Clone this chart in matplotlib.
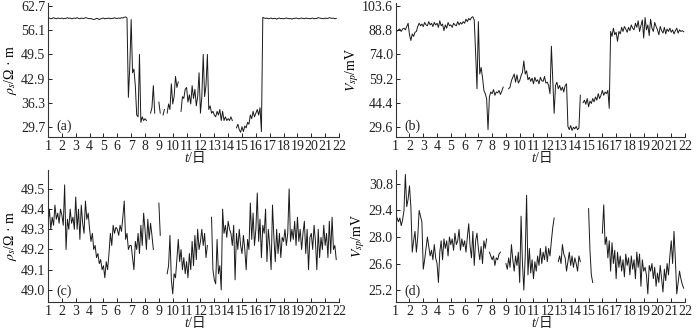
import numpy as np
import matplotlib
matplotlib.use("Agg")
import matplotlib.pyplot as plt

plt.rcParams['font.family'] = ['Liberation Serif', 'Noto Sans CJK SC']
plt.rcParams['mathtext.fontset'] = 'stix'

nan = np.nan

# (a) apparent resistivity, Ohm*m, sampled every 0.1 day from t=1
rho_a = [
    59.3, 59.4, 59.2, 59.3, 59.5, 59.3, 59.2, 59.4, 59.3, 59.3,
    59.4, 59.2, 59.3, 59.3, 59.5, 59.3, 59.4, 59.2, 59.3, 59.4,
    59.3, 59.5, 59.3, 59.2, 59.4, 59.3, 59.3, 59.5, 59.4, 59.3,
    59.2, 59.3, 59.1, 59.0, 59.1, 59.3, 59.2, 59.0, 59.2, 59.3,
    59.4, 59.2, 59.3, 59.3, 59.4, 59.2, 59.3, 59.3, 59.5, 59.3,
    59.3, 59.4, 59.3, 59.5, 59.4, 59.6, 59.7, 59.4, 37.8, 46.0,
    59.0, 44.5, 45.5, 41.0, 33.0, 32.5, 49.5, 31.0, 32.5, 31.5,
    32.0, 31.5, nan, nan, 33.5, 35.0, 41.0, 33.5, nan, nan,
    36.5, 33.5, nan, 33.0, 34.5, nan, 33.5, 36.0, 34.5, 41.5,
    36.0, 38.0, 43.5, 40.5, 42.0, nan, 34.0, 38.0, 37.5, 40.0,
    40.5, 36.5, 38.5, 36.0, 41.0, 37.5, 40.0, 35.5, 38.0, 44.5,
    33.5, 38.0, 49.5, 38.0, 41.0, 49.5, 34.5, 35.5, 33.5, 34.0,
    33.0, 32.5, 34.0, 33.0, 34.5, 31.5, 34.0, 31.5, 32.5, 31.5,
    32.0, 31.5, 32.5, 31.5, nan, nan, 29.5, 30.5, 29.0, 28.3,
    29.8, 28.5, 30.0, 29.5, 31.0, 30.5, 33.0, 32.0, 34.0, 32.5,
    33.5, 34.5, 33.0, 35.0, 28.5, 59.6, 59.4, 59.3, 59.4, 59.2,
    59.3, 59.4, 59.2, 59.3, 59.3, 59.1, 59.3, 59.4, 59.2, 59.3,
    59.2, 59.3, 59.4, 59.3, 59.2, 59.3, 59.1, 59.3, 59.3, 59.4,
    59.3, 59.2, 59.3, 59.4, 59.3, 59.2, 59.4, 59.3, 59.3, 59.2,
    59.3, 59.4, 59.2, 59.3, 59.3, 59.5, 59.4, 59.3, 59.3, 59.2,
    59.4, 59.3, 59.3, 59.5, 59.4, 59.3, 59.4, 59.2, 59.3,
]

# (b) self-potential, mV
vsp_b = [
    88.5, 88.2, 89.0, 89.5, 88.0, 89.5, 90.0, 89.0, 91.0, 93.0,
    86.0, 82.5, 86.5, 85.0, 87.5, 88.0, 91.0, 93.0, 91.5, 92.5,
    91.0, 93.5, 92.0, 91.5, 94.0, 92.0, 93.0, 91.0, 93.5, 92.0,
    93.0, 90.5, 94.5, 91.5, 92.5, 88.5, 92.0, 90.0, 93.5, 91.5,
    92.0, 90.5, 93.0, 92.0, 91.5, 94.0, 92.0, 93.5, 92.5, 94.0,
    93.0, 95.5, 94.0, 96.0, 95.0, 96.5, 97.0, 95.0, 75.0, 53.0,
    94.0, 62.0, 66.0, 60.0, 52.0, 50.0, 47.0, 28.0, 48.0, 51.0,
    50.0, 52.5, 49.0, 51.0, 50.5, 52.0, 49.5, 51.5, 54.0, nan,
    55.0, nan, 53.0, 54.0, 58.0, 60.0, 62.0, 57.0, 61.5, 56.5,
    58.0, 61.0, 63.0, 70.0, 62.0, 64.0, 58.5, 60.0, 57.5, 59.5,
    56.0, 60.0, 57.5, 58.5, 56.0, 60.0, 58.0, 57.5, 60.5, 56.5,
    57.0, 55.0, 50.0, 79.0, 58.0, 38.0, 55.0, 57.0, 53.0, 55.0,
    52.0, 54.0, 51.0, 55.0, 56.0, 30.0, 28.0, 30.5, 27.5, 29.5,
    28.5, 30.0, 28.0, 29.0, 49.0, nan, 44.5, 46.0, 43.5, 47.0,
    42.0, 45.5, 44.0, 47.0, 45.0, 48.0, 46.0, 50.0, 47.0, 49.0,
    52.0, 49.0, 51.0, 50.0, 52.0, 41.0, 88.0, 85.0, 90.0, 86.0,
    87.5, 82.0, 88.0, 86.5, 90.5, 88.0, 91.0, 89.5, 87.5, 90.5,
    88.5, 92.0, 90.0, 89.0, 93.0, 90.5, 94.5, 88.0, 91.5, 95.0,
    84.0, 96.5, 89.0, 92.0, 85.5, 95.5, 90.0, 88.0, 93.5, 91.0,
    89.0, 86.0, 91.0, 88.5, 87.0, 90.5, 86.5, 89.5, 88.0, 90.0,
    87.5, 89.0, 86.5, 88.5, 90.0, 87.0, 89.0, 88.0, 88.5, 87.8,
]

# (c) apparent resistivity, Ohm*m
rho_c = [
    49.33, 49.40, 49.30, 49.36, 49.32, 49.42, 49.35, 49.38, 49.33, 49.40,
    49.37, 49.32, 49.52, 49.20, 49.35, 49.30, 49.40, 49.33, 49.36, 49.30,
    49.46, 49.30, 49.40, 49.25, 49.42, 49.33, 49.28, 49.44, 49.35, 49.38,
    49.30, 49.24, 49.28, 49.20, 49.22, 49.16, 49.18, 49.13, 49.15, 49.10,
    49.12, 49.06, 49.14, 49.10, 49.18, 49.28, 49.22, 49.32, 49.28, 49.31,
    49.30, 49.27, 49.32, 49.29, 49.36, 49.44, 49.25, 49.28, 49.20, 49.22,
    49.22, 49.16, 49.10, 49.24, 49.20, 49.28, 49.18, 49.32, 49.22, 49.38,
    49.30, 49.20, 49.35, 49.25, 49.33, 49.27, 49.20, nan, nan, nan,
    49.43, 49.27, nan, nan, nan, nan, 49.08, 49.12, 49.27, 49.05,
    48.98, 49.08, 49.06, 49.15, 49.25, 49.14, 49.20, 49.10, 49.16, 49.08,
    49.14, 49.06, 49.18, 49.10, 49.24, 49.12, 49.27, 49.15, 49.30, 49.20,
    49.24, 49.30, 49.22, 49.28, 49.16, 49.22, nan, nan, 49.36, 49.10,
    49.05, 49.03, 49.25, 49.08, 49.12, 49.00, 49.40, 49.28, 49.32, 49.26,
    49.34, 49.30, 49.28, 49.22, 49.32, 49.05, 49.28, 49.20, 49.30, 49.22,
    49.18, 49.27, 49.20, 49.10, 49.25, 49.20, 49.43, 49.25, 49.38, 49.22,
    49.30, 49.48, 49.24, 49.35, 49.16, 49.32, 49.28, 49.40, 49.14, 49.30,
    49.22, 49.10, 49.42, 49.26, 49.14, 49.30, 49.18, 49.28, 49.16, 49.26,
    49.24, 49.30, 49.22, 49.28, 49.50, 49.24, 49.30, 49.25, 49.34, 49.22,
    49.36, 49.24, 49.30, 49.20, 49.28, 49.34, 49.18, 49.30, 49.10, 49.26,
    49.28, 49.20, 49.32, 49.24, 49.10, 49.30, 49.16, 49.26, 49.20, 49.32,
    49.22, 49.28, 49.16, 49.34, 49.18, 49.36, 49.20, 49.22, 49.15,
]

# (d) self-potential, mV
vsp_d = [
    29.2, 29.0, 28.8, 29.0, 28.6, 28.9, 29.4, 31.3, 29.6, 30.0,
    30.7, 29.6, 27.2, 27.8, 28.3, 27.2, 28.0, 29.4, 29.1, 28.8,
    26.3, 26.8, 27.4, 28.0, 27.5, 27.0, 27.3, 26.8, 27.6, 26.9,
    26.6, 25.6, 27.2, 27.8, 26.8, 27.9, 27.4, 27.8, 27.0, 28.0,
    27.6, 27.9, 27.3, 28.2, 27.6, 27.8, 28.4, 27.3, 27.9, 27.5,
    27.8, 27.2, 28.0, 28.7, 27.5, 26.9, 28.3, 26.5, 27.8, 28.2,
    27.4, 26.8, 27.5, 26.6, 27.8, 27.4, 27.9, nan, 27.2, 27.0,
    26.8, 27.0, 26.5, 26.9, 26.8, 27.1, 27.2, nan, nan, nan,
    26.6, 26.3, 26.9, 26.4, 27.6, 26.8, 26.2, 27.0, 26.5, 27.2,
    25.6, 29.1, 26.6, 25.2, 27.0, 30.2, 26.0, 27.4, 26.1, 26.8,
    25.8, 26.7, 26.2, 27.0, 26.5, 27.4, 26.6, 27.2, 26.8, 27.5,
    26.7, 27.4, 27.0, 27.8, 28.5, 29.0, nan, nan, 26.7, 27.0,
    26.6, 27.6, 27.1, 26.9, 26.2, 26.7, 27.2, 26.5, 27.0, 26.4,
    26.9, 26.6, 26.2, 27.0, 26.7, nan, nan, nan, nan, nan,
    29.5, 27.3, 26.0, 25.6, nan, nan, nan, nan, nan, nan,
    28.2, 29.7, 27.6, 28.0, 26.9, 27.8, 26.2, 27.7, 26.6, 27.3,
    25.8, 27.2, 26.4, 27.0, 26.2, 26.8, 25.9, 27.1, 26.5, 26.9,
    26.0, 27.0, 26.3, 26.8, 25.8, 27.2, 26.4, 27.1, 25.4, 26.8,
    26.2, 26.4, 26.0, 25.0, 26.5, 26.2, 26.6, 25.8, 26.4, 25.4,
    26.1, 25.6, 26.5, 25.8, 25.1, 26.3, 25.7, 26.6, 26.0, 27.0,
    27.8, 26.6, 28.3, 26.8, 25.0, 25.6, 26.2, 25.8, 25.5, 25.3,
]

rho_a_ticks = [29.7, 36.3, 42.9, 49.5, 56.1, 62.7]
vsp_b_ticks = [29.6, 44.4, 59.2, 74.0, 88.8, 103.6]
rho_c_ticks = [49.0, 49.1, 49.2, 49.3, 49.4, 49.5]
vsp_d_ticks = [25.2, 26.6, 28.0, 29.4, 30.8]
days = list(range(1, 23))

panels = [
    (rho_a, rho_a_ticks, (27.0, 63.5), r'$\rho_s$/Ω · m', '(a)'),
    (vsp_b, vsp_b_ticks, (23.5, 105.4), r'$V_{sp}$/mV', '(b)'),
    (rho_c, rho_c_ticks, (48.94, 49.594), r'$\rho_s$/Ω · m', '(c)'),
    (vsp_d, vsp_d_ticks, (24.57, 31.54), r'$V_{sp}$/mV', '(d)'),
]

pos = [
    [0.0686, 0.586, 0.4157, 0.405],
    [0.5653, 0.586, 0.4133, 0.405],
    [0.0686, 0.0876, 0.4157, 0.399],
    [0.5653, 0.0876, 0.4133, 0.399],
]

fig = plt.figure(figsize=(7, 3.31), dpi=100)
for (vals, ticks, ylim, ylab, tag), p in zip(panels, pos):
    ax = fig.add_axes(p)
    t = 1 + 0.1 * np.arange(len(vals))
    ax.plot(t, vals, color='#1a1a1a', lw=0.7)
    ax.set_xlim(1, 22)
    ax.set_ylim(*ylim)
    ax.set_xticks(days)
    ax.set_xticklabels([str(d) for d in days])
    ax.set_yticks(ticks)
    ax.set_yticklabels(['%.1f' % v for v in ticks])
    ax.spines['top'].set_visible(False)
    ax.spines['right'].set_visible(False)
    for s in ['left', 'bottom']:
        ax.spines[s].set_linewidth(0.8)
        ax.spines[s].set_color('#333333')
    ax.tick_params(direction='in', length=3, width=0.7, labelsize=10, pad=2,
                   colors='#222222')
    ax.set_ylabel(ylab, fontsize=10, labelpad=1)
    # x label "t/日": italic t, then the CJK part as plain text
    ax.annotate('t', xy=(0.5, 0), xycoords='axes fraction',
                xytext=(-4, -15.5), textcoords='offset points',
                ha='right', va='center', fontsize=10, style='italic',
                color='#222222')
    ax.annotate('/日', xy=(0.5, 0), xycoords='axes fraction',
                xytext=(-4, -15.5), textcoords='offset points',
                ha='left', va='center', fontsize=10, color='#222222')
    ax.text(0.03, 0.08, tag, transform=ax.transAxes, fontsize=10,
            color='#222222', va='center')

fig.savefig('out.png', dpi=100)
